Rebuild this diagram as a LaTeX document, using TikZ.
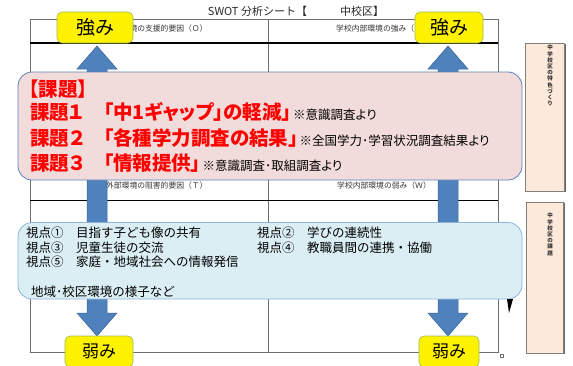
\documentclass[tikz,border=0pt]{standalone}
\usepackage{fontspec}
\newfontfamily\jp{Noto Sans CJK JP}
\newfontfamily\jpp[RawFeature=+palt]{Noto Sans CJK JP}
\definecolor{ygreen}{HTML}{9BBB59}
\definecolor{arrowblue}{HTML}{4F81BD}
\definecolor{arrowedge}{HTML}{3A6397}
\definecolor{pinkfill}{HTML}{F2DCDB}
\definecolor{pinkedge}{HTML}{5B82B8}
\definecolor{bluefill}{HTML}{DBEEF4}
\definecolor{blueedge}{HTML}{8FB4DA}
\definecolor{peach}{HTML}{FDE9D9}
\definecolor{tablegray}{HTML}{6E6E6E}
\tikzset{
  ybox/.style={draw=ygreen, fill=yellow, rounded corners=5pt, line width=0.6pt, inner sep=0pt, font=\jp\fontsize{19}{19}\selectfont},
  bigarrow/.style={fill=arrowblue, draw=arrowedge, line width=0.5pt},
  panel/.style={rounded corners=14pt, line width=0.8pt, inner sep=0pt},
  kline/.style={anchor=base west, inner sep=0pt, font=\jpp\bfseries\fontsize{19.5}{19.5}\selectfont, text=red},
  vline/.style={anchor=base west, inner sep=0pt, font=\jp\fontsize{12.5}{12.5}\selectfont},
  hdr/.style={anchor=base, inner sep=0pt, font=\jp\fontsize{7.8}{7.8}\selectfont, text=black!80},
  side/.style={fill=peach, draw=gray, line width=0.5pt},
  vtxt/.style={anchor=north, inner sep=0pt, align=center, font=\jp\bfseries\fontsize{5.5}{6.2}\selectfont, text=black!80}
}
\newcommand\note[1]{{\color{black}\mdseries\fontsize{12.5}{12.5}\selectfont\hspace{1.5pt}#1}}
\begin{document}
\begin{tikzpicture}[x=1pt,y=-1pt]
\useasboundingbox (0,0) rectangle (573,365);
% table
\draw[tablegray, line width=0.6pt] (30,19) rectangle (498,352);
\draw[tablegray, line width=0.6pt] (268,19) -- (268,352);
\draw[black, line width=1.2pt] (30,43) -- (498,43);
\draw[black, line width=0.6pt] (30,176) -- (498,176);
\draw[black, line width=1pt] (30,200) -- (498,200);
\draw[tablegray, line width=0.4pt] (500,354) rectangle (503.5,357.5);
% title and headers
\node[anchor=base, inner sep=0pt, font=\jp\fontsize{11}{11}\selectfont, text=black!85] (title) at (296,15) {SWOT 分析シート【　　　中校区】};
\node[hdr] (hO) at (149,31) {学校外部環境の支援的要因（Ｏ）};
\node[hdr] (hS) at (383,31) {学校内部環境の強み（Ｓ）};
\node[hdr] (hT) at (149,188) {学校外部環境の阻害的要因（Ｔ）};
\node[hdr] (hW) at (384,188) {学校内部環境の弱み（Ｗ）};
% arrows
\fill[bigarrow] (97,46) -- (117,69) -- (107,69) -- (107,313) -- (117,313) -- (97,336) -- (77,313) -- (87,313) -- (87,69) -- (77,69) -- cycle;
\fill[bigarrow] (448,46) -- (468,69) -- (458,69) -- (458,313) -- (468,313) -- (448,336) -- (428,313) -- (438,313) -- (438,69) -- (428,69) -- cycle;
% yellow boxes
\node[ybox, minimum width=76pt, minimum height=31pt] (s1) at (95,27.5) {強み};
\node[ybox, minimum width=68pt, minimum height=31pt] (s2) at (449,27.5) {強み};
\node[ybox, minimum width=68pt, minimum height=31pt, font=\jp\fontsize{17}{17}\selectfont] (w1) at (99,351.5) {弱み};
\node[ybox, minimum width=60pt, minimum height=31pt, font=\jp\fontsize{17}{17}\selectfont] (w2) at (449,351.5) {弱み};
% pink panel
\node[panel, draw=pinkedge, fill=pinkfill, minimum width=504pt, minimum height=108pt] (kadai) at (270,126) {};
\node[kline] (k0) at (29,96.5) {【課題】};
\node[kline] (k1) at (30,119.5) {課題１　「中1ギャップ」の軽減」\note{※意識調査より}};
\node[kline] (k2) at (30,145.5) {課題２　「各種学力調査の結果」\note{※全国学力･学習状況調査結果より}};
\node[kline] (k3) at (30,170) {課題３　「情報提供」\note{※意識調査･取組調査より}};
% blue panel
\node[panel, draw=blueedge, fill=bluefill, minimum width=504pt, minimum height=76.5pt] (views) at (270,260.75) {};
\node[vline] (v1) at (26,237) {視点①　目指す子ども像の共有};
\node[vline] (v2) at (257,237) {視点②　学びの連続性};
\node[vline] (v3) at (26,252) {視点③　児童生徒の交流};
\node[vline] (v4) at (257,252) {視点④　教職員間の連携・協働};
\node[vline] (v5) at (26,266) {視点⑤　家庭・地域社会への情報発信};
\node[vline] (v6) at (31,296) {地域･校区環境の様子など};
% wedge
\fill[black] (507,299) -- (513,299) -- (509,313) -- cycle;
% side boxes
\fill[gray!80!black] (526,44) rectangle (565.5,192);
\filldraw[side] (525,43) rectangle (564,191);
\fill[gray!80!black] (527,203) rectangle (564.5,354);
\filldraw[side] (526,202) rectangle (563,353);
\node[vtxt] (t1) at (550,45) {中\\学\\校\\区\\の\\特\\色\\づ\\く\\り};
\node[vtxt] (t2) at (550,213) {中\\学\\校\\区\\の\\課\\題};
\end{tikzpicture}
\end{document}
